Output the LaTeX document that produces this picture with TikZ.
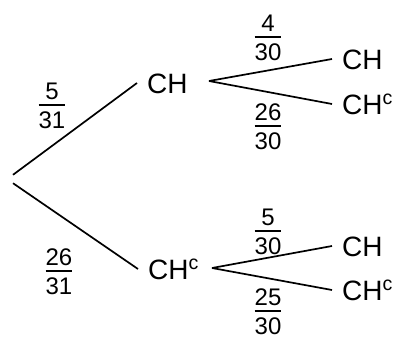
\documentclass[tikz,border=0pt]{standalone}
\usepackage{fontspec}
\setmainfont{Liberation Sans}
\newcommand{\frc}[2]{{\setlength{\arrayrulewidth}{2pt}\renewcommand{\arraystretch}{0}%
\begin{tabular}{@{}c@{}}#1\rule[-4pt]{0pt}{0pt}\\\hline\rule{0pt}{23pt}#2\end{tabular}}}
\tikzset{
  event/.style={anchor=west,inner xsep=10pt,inner ysep=0pt,font=\fontsize{28}{34}\selectfont,text height=20pt,text depth=0pt},
  prob/.style={inner sep=0pt,font=\fontsize{24}{29}\selectfont},
  branch/.style={line width=1.7pt}
}
\begin{document}
\begin{tikzpicture}[x=1pt,y=-1pt]
\path[use as bounding box] (0,0) rectangle (395,340);
% first stage
\node[inner sep=0pt,minimum width=0pt,minimum height=8pt] (root) at (13,179) {};
\node[event] (ch) at (137,83) {CH};
\node[event] (chc) at (138,269) {CH\textsuperscript{c}};
\draw[branch] (root.north) -- (ch.west);
\draw[branch] (root.south) -- (chc.west);
\node[prob] (p1) at (52,106) {\frc{5}{31}};
\node[prob] (p2) at (59,272) {\frc{26}{31}};
% second stage
\coordinate (fa) at (209,81);
\coordinate (fb) at (212,268);
\node[event] (chch) at (332,59) {CH};
\node[event] (chchc) at (332,104) {CH\textsuperscript{c}};
\node[event] (chcch) at (332,246) {CH};
\node[event] (chcchc) at (332,290) {CH\textsuperscript{c}};
\draw[branch] (fa) -- (chch.west);
\draw[branch] (fa) -- (chchc.west);
\draw[branch] (fb) -- (chcch.west);
\draw[branch] (fb) -- (chcchc.west);
\node[prob] (p3) at (268,38) {\frc{4}{30}};
\node[prob] (p4) at (268,127) {\frc{26}{30}};
\node[prob] (p5) at (268,232) {\frc{5}{30}};
\node[prob] (p6) at (268,312) {\frc{25}{30}};
\end{tikzpicture}
\end{document}
